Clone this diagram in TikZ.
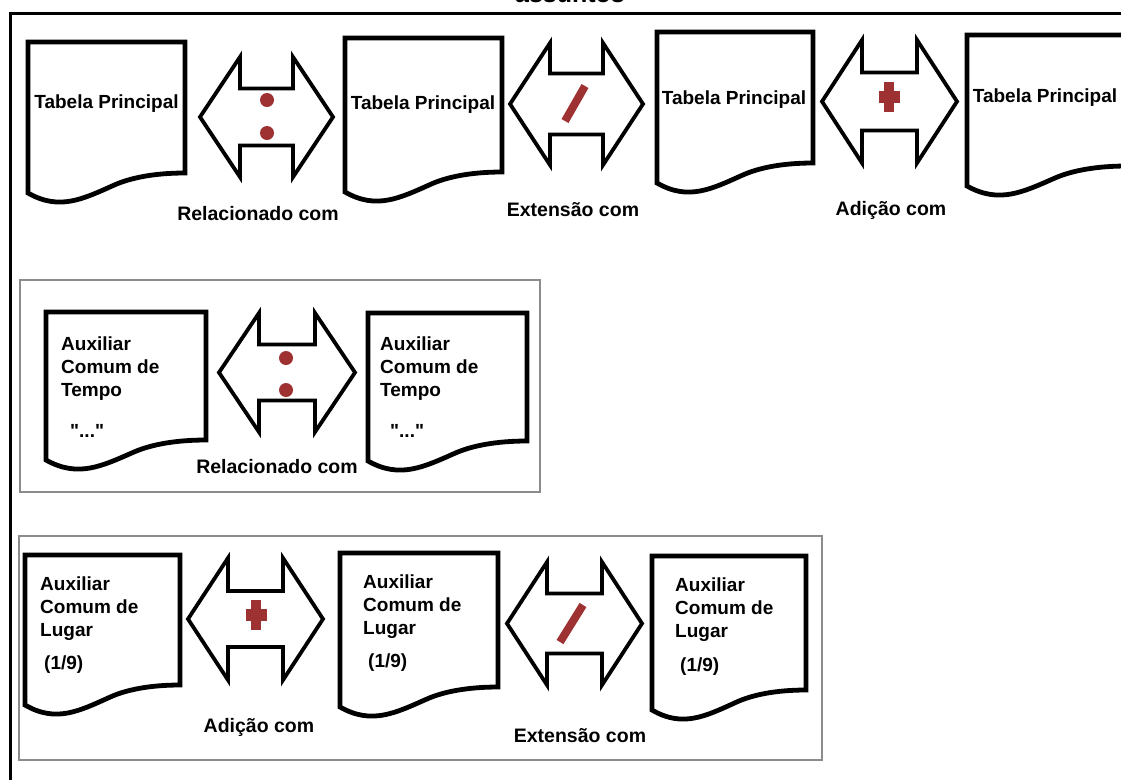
\documentclass[tikz,border=0pt]{standalone}
\usepackage{fontspec}
\setmainfont{Liberation Sans}[Ligatures=TeXOff]
\definecolor{symred}{RGB}{158,50,50}
\definecolor{boxgrey}{RGB}{140,140,140}

% document sheet with wavy bottom: name, x, y, width, height of right edge
\newcommand\docsheet[5]{%
  \draw[docline] (#2,#3) -- (#2+#4,#3) -- (#2+#4,#3+#5)
    .. controls (#2+0.8*#4,#3+#5) and (#2+0.65*#4,#3+#5+5) .. (#2+0.55*#4,#3+#5+12)
    .. controls (#2+0.35*#4,#3+#5+26) and (#2+0.2*#4,#3+#5+38) .. (#2,#3+#5+20)
    -- cycle;
  \coordinate (#1) at ({#2+0.5*#4},{#3+0.5*#5});}

% block double arrow: name, left tip x, right tip x, centre y, half height, shaft half height
\newcommand\dblarrow[6]{%
  \draw[arrowline] (#2,#4) -- (#2+40,#4-#5) -- (#2+40,#4-#6) -- (#3-40,#4-#6)
    -- (#3-40,#4-#5) -- (#3,#4) -- (#3-40,#4+#5) -- (#3-40,#4+#6)
    -- (#2+40,#4+#6) -- (#2+40,#4+#5) -- cycle;
  \coordinate (#1) at ({(#2+#3)/2},#4);}

\begin{document}
\begin{tikzpicture}[x=1pt,y=-1pt,
  docline/.style={draw=black, line width=4.8pt, fill=white},
  arrowline/.style={draw=black, line width=3.8pt, fill=white},
  groupbox/.style={draw=boxgrey, line width=2pt},
  frameline/.style={draw=black, line width=3pt},
  txt/.style={font=\fontsize{19}{23}\selectfont\bfseries, inner sep=0pt},
  lbl/.style={font=\fontsize{19.5}{23}\selectfont\bfseries, inner sep=0pt, anchor=base},
  dotsym/.style={fill=symred},
  slashsym/.style={draw=symred, line width=8pt},
  crosssym/.style={fill=symred}
]
\useasboundingbox (0,0) rectangle (1121,780);

% heading (cut by the page edge) and outer frame
\node[font=\fontsize{25}{28}\selectfont\bfseries, inner sep=0pt, anchor=base] (title) at (570,2) {assuntos};
\draw[frameline] (10,780) -- (10,13) -- (1125,13);

% ---------- row 1: main tables ----------
\docsheet{d1}{28}{42}{157}{131}
\docsheet{d2}{345}{38}{157}{134}
\docsheet{d3}{657}{32}{156}{131}
\docsheet{d4}{967}{35}{160}{131}

\node[txt, anchor=base] (t1) at (106.5,108) {Tabela Principal};
\node[txt, anchor=base] (t2) at (423,109) {Tabela Principal};
\node[txt, anchor=base] (t3) at (734,104) {Tabela Principal};
\node[txt, anchor=base] (t4) at (1045,102) {Tabela Principal};

\dblarrow{a1}{200}{333}{117}{60}{28.5}
\dblarrow{a2}{510}{643}{104}{61}{30.5}
\dblarrow{a3}{822}{957}{101.5}{61.5}{29}

\fill[dotsym] (267,100) circle (7);
\fill[dotsym] (267,133) circle (7);
\draw[slashsym] (565,121) -- (585,86);
\fill[crosssym] (884,82) rectangle (894,112);
\fill[crosssym] (878.5,91) rectangle (899.5,103);

\node[lbl] (l1) at (258,220) {Relacionado com};
\node[lbl] (l2) at (573,216) {Extensão com};
\node[lbl] (l3) at (891,215) {Adição com};

% ---------- row 2: time auxiliaries ----------
\draw[groupbox] (20,280) rectangle (540,492);
\docsheet{e1}{46}{312}{160}{128}
\docsheet{e2}{368}{313}{159}{128}

% multi-line nodes: the base anchor sits on the last line
\node[txt, anchor=base west, align=left] (u1) at (61,396) {Auxiliar\\Comum de\\Tempo};
\node[txt, anchor=base west] (q1) at (70,437) {"..."};
\node[txt, anchor=base west, align=left] (u2) at (380,396) {Auxiliar\\Comum de\\Tempo};
\node[txt, anchor=base west] (q2) at (390,437) {"..."};

\dblarrow{b1}{219}{355}{372.5}{59.5}{28}
\fill[dotsym] (286,358) circle (7);
\fill[dotsym] (286,390) circle (7);

\node[lbl] (l4) at (277,473) {Relacionado com};

% ---------- row 3: place auxiliaries ----------
\draw[groupbox] (19,536) rectangle (822,760);
\docsheet{f1}{25}{555}{155}{130}
\docsheet{f2}{340}{553}{158}{134}
\docsheet{f3}{652}{556}{154}{134}

\node[txt, anchor=base west, align=left] (v1) at (40,636) {Auxiliar\\Comum de\\Lugar};
\node[txt, anchor=base west] (n1) at (44,669) {(1/9)};
\node[txt, anchor=base west, align=left] (v2) at (363,634) {Auxiliar\\Comum de\\Lugar};
\node[txt, anchor=base west] (n2) at (368,667) {(1/9)};
\node[txt, anchor=base west, align=left] (v3) at (675,637) {Auxiliar\\Comum de\\Lugar};
\node[txt, anchor=base west] (n3) at (680,671) {(1/9)};

\dblarrow{c1}{188}{323}{619}{61}{28}
\dblarrow{c2}{507}{642}{623.5}{61.5}{30}
\fill[crosssym] (251,600) rectangle (261,630);
\fill[crosssym] (245.5,609) rectangle (266.5,621);
\draw[slashsym] (560,642) -- (583,605);

\node[lbl] (l5) at (259,732) {Adição com};
\node[lbl] (l6) at (580,742) {Extensão com};
\end{tikzpicture}
\end{document}
